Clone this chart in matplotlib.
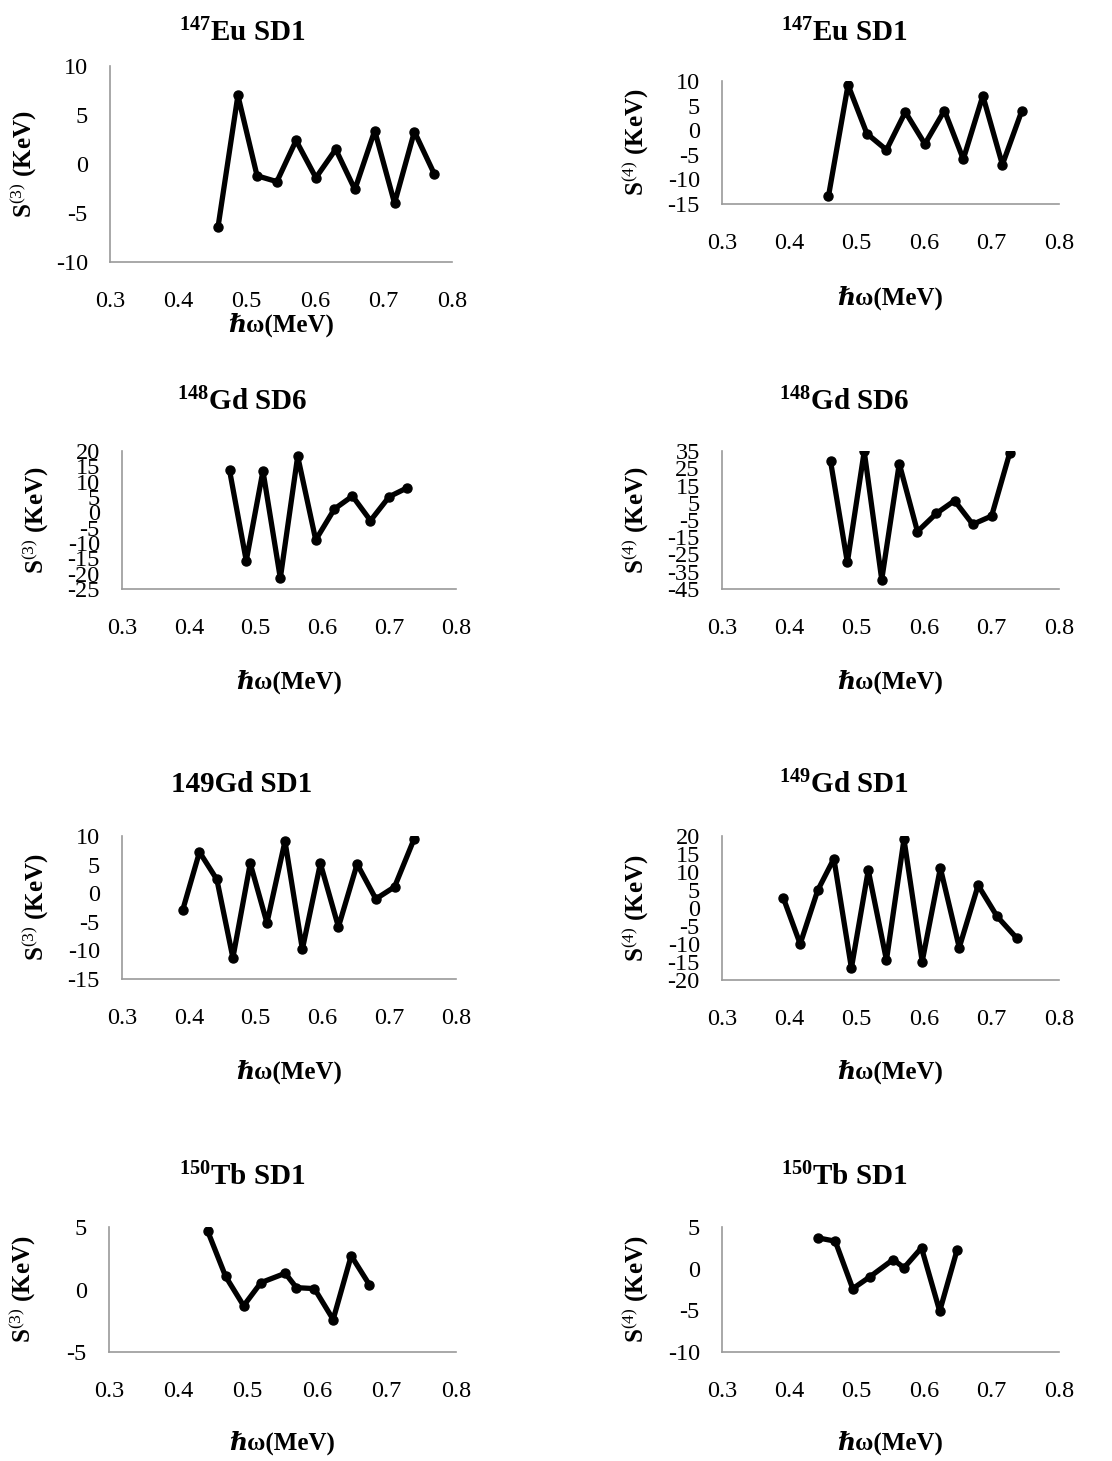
import matplotlib
matplotlib.use("Agg")
import matplotlib.pyplot as plt
import numpy as np

plt.rcParams['font.family'] = ['Liberation Serif', 'DejaVu Serif']
plt.rcParams['mathtext.fontset'] = 'custom'
plt.rcParams['mathtext.rm'] = 'Liberation Serif'
plt.rcParams['mathtext.it'] = 'Liberation Serif:italic'
plt.rcParams['mathtext.bf'] = 'Liberation Serif:bold'
plt.rcParams['axes.unicode_minus'] = False

# hbar*omega (MeV) and staggering values (keV)
eu147_w = [0.458, 0.487, 0.515, 0.544, 0.572, 0.601, 0.630, 0.658, 0.687, 0.716, 0.745, 0.774]
eu147_s3 = [-6.4, 7.0, -1.2, -1.8, 2.4, -1.4, 1.5, -2.6, 3.4, -4.0, 3.3, -1.0]
eu147_s4 = [-13.4, 9.2, -0.7, -4.0, 3.7, -2.8, 4.0, -5.9, 7.0, -7.0, 4.0]

gd148_w = [0.461, 0.486, 0.511, 0.537, 0.563, 0.590, 0.618, 0.645, 0.672, 0.700, 0.727]
gd148_s3 = [13.7, -15.8, 13.5, -21.5, 18.3, -9.0, 1.1, 5.3, -2.7, 5.1, 8.0]
gd148_s4 = [29.2, -29.6, 34.8, -39.6, 27.7, -11.7, -1.2, 6.2, -7.5, -2.7, 34.0]

gd149_w = [0.391, 0.416, 0.442, 0.466, 0.492, 0.517, 0.544, 0.570, 0.597, 0.624, 0.652, 0.680, 0.708, 0.737]
gd149_s3 = [-2.9, 7.2, 2.4, -11.3, 5.2, -5.2, 9.1, -9.8, 5.2, -5.9, 5.1, -1.0, 1.1, 9.4]
gd149_s4 = [2.8, -10.0, 4.9, 13.7, -16.7, 10.5, -14.5, 19.1, -14.9, 11.1, -11.0, 6.3, -2.3, -8.3]

tb150_w = [0.442, 0.468, 0.494, 0.519, 0.554, 0.570, 0.596, 0.623, 0.649, 0.675]
tb150_s3 = [4.7, 1.05, -1.3, 0.55, 1.3, 0.15, 0.07, -2.4, 2.7, 0.4]
tb150_s4 = [3.7, 3.3, -2.4, -1.0, 1.1, 0.1, 2.5, -5.1, 2.3]

titles = [r'$^{\mathbf{147}}$Eu SD1', r'$^{\mathbf{147}}$Eu SD1',
          r'$^{\mathbf{148}}$Gd SD6', r'$^{\mathbf{148}}$Gd SD6',
          '149Gd SD1', r'$^{\mathbf{149}}$Gd SD1',
          r'$^{\mathbf{150}}$Tb SD1', r'$^{\mathbf{150}}$Tb SD1']
series = [(eu147_w, eu147_s3), (eu147_w[:11], eu147_s4),
          (gd148_w, gd148_s3), (gd148_w, gd148_s4),
          (gd149_w, gd149_s3), (gd149_w, gd149_s4),
          (tb150_w, tb150_s3), (tb150_w[:9], tb150_s4)]
ylims = [(-10, 10, 5), (-15, 10, 5), (-25, 20, 5), (-45, 35, 10),
         (-15, 10, 5), (-20, 20, 5), (-5, 5, 5), (-10, 5, 5)]
ylabels = [r'S$^{(3)}$ (KeV)', r'S$^{(4)}$ (KeV)'] * 4

W, H = 1112, 1461
# axes boxes in pixels: left, top, right, bottom ; title y ; xlabel y
boxes = [
    (110, 66, 452, 262, 33, 325),
    (722, 81, 1059, 204, 33, 298),
    (122, 451, 456, 589, 402, 682),
    (722, 451, 1059, 589, 402, 682),
    (122, 836, 456, 979, 785, 1072),
    (722, 836, 1059, 980, 785, 1072),
    (109, 1227, 456, 1352, 1177, 1443),
    (722, 1227, 1059, 1352, 1177, 1443),
]
title_x = [242, 844]

fig = plt.figure(figsize=(W / 100, H / 100), dpi=100)

for i, (l, t, r, b, ty, ly) in enumerate(boxes):
    ax = fig.add_axes([l / W, 1 - b / H, (r - l) / W, (b - t) / H])
    x, y = series[i]
    ax.plot(x, y, color='black', lw=3.8, marker='o', ms=6.5,
            solid_joinstyle='round', solid_capstyle='round', zorder=3)
    lo, hi, st = ylims[i]
    ax.set_ylim(lo, hi)
    ax.set_yticks(np.arange(lo, hi + 0.1, st))
    ax.set_xlim(0.3, 0.8)
    ax.set_xticks(np.arange(0.3, 0.81, 0.1))
    ax.set_xticklabels(['%.1f' % v for v in np.arange(0.3, 0.81, 0.1)])
    for s in ['top', 'right']:
        ax.spines[s].set_visible(False)
    for s in ['left', 'bottom']:
        ax.spines[s].set_color('#9a9a9a')
        ax.spines[s].set_linewidth(1.2)
    ax.tick_params(axis='both', length=0, labelsize=17.5)
    ax.tick_params(axis='x', pad=21)
    ax.tick_params(axis='y', pad=16)
    ax.set_xlabel('ℏω(MeV)', fontsize=18, fontweight='bold')
    ax.xaxis.label.set_va('center')
    ax.xaxis.set_label_coords(0.5, -(ly - b) / (b - t))
    ax.set_ylabel(ylabels[i], fontsize=18, fontweight='bold')
    ax.yaxis.label.set_va('center')
    ax.yaxis.set_label_coords(-87 / (r - l), 0.5)
    fig.text(title_x[i % 2] / W, 1 - ty / H, titles[i], fontsize=21,
             fontweight='bold', ha='center', va='center')

fig.savefig('out.png', dpi=100)
